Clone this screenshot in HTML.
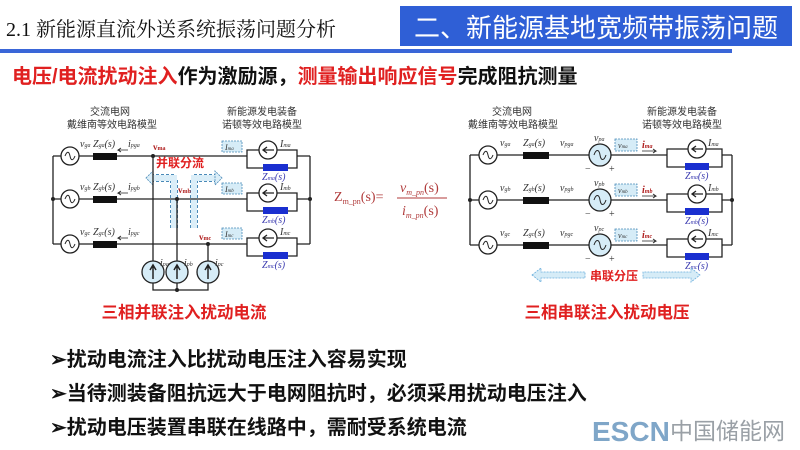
<!DOCTYPE html>
<html><head><meta charset="utf-8"><style>
html,body{margin:0;padding:0;background:#fff;}
svg{display:block;}
.cn{font-family:"Liberation Sans","Noto Sans CJK SC",sans-serif;}
.se{font-family:"Liberation Serif","Noto Serif CJK SC",serif;}
</style></head><body>
<svg width="800" height="450" viewBox="0 0 800 450" xmlns="http://www.w3.org/2000/svg">
<defs>
<g id="acs"><circle r="9" fill="#fff" stroke="#222" stroke-width="1.3"/><path d="M-5,0 C-3,-5 -1,-5 0,0 C1,5 3,5 5,0" fill="none" stroke="#222" stroke-width="1"/></g>
<g id="acb"><circle r="11" fill="#d6ecf7" stroke="#222" stroke-width="1.3"/><path d="M-6,0 C-4,-6 -1,-6 0,0 C1,6 4,6 6,0" fill="none" stroke="#222" stroke-width="1"/></g>
<g id="cs"><circle r="9" fill="#fff" stroke="#222" stroke-width="1.3"/><path d="M6,0 H-5 M-1,-3 L-5,0 L-1,3" fill="none" stroke="#222" stroke-width="1.3"/></g>
<g id="inj"><circle r="11" fill="#d6ecf7" stroke="#222" stroke-width="1.3"/><path d="M0,7 V-6 M-3,-2 L0,-7 L3,-2" fill="none" stroke="#222" stroke-width="1.5"/></g>
</defs>
<!-- header -->
<text x="6" y="36" class="se" font-size="20" fill="#111">2.1 新能源直流外送系统振荡问题分析</text>
<rect x="400" y="6" width="392" height="40" fill="#2f5fd6"/>
<text x="596" y="37" class="cn" font-size="26" fill="#fff" text-anchor="middle">二、新能源基地宽频带振荡问题</text>
<rect x="0" y="49" width="732" height="4" fill="#3a66d8"/>
<text x="12" y="83" class="cn" font-size="20" font-weight="bold"><tspan fill="#e02020">电压/电流扰动注入</tspan><tspan fill="#111">作为激励源，</tspan><tspan fill="#e02020">测量输出响应信号</tspan><tspan fill="#111">完成阻抗测量</tspan></text>

<!-- LEFT CIRCUIT -->
<g class="cn" font-size="10" fill="#333" text-anchor="middle">
<text x="110" y="115">交流电网</text><text x="112" y="128">戴维南等效电路模型</text>
<text x="262" y="115">新能源发电装备</text><text x="262" y="128">诺顿等效电路模型</text>
</g>
<!-- split arrows (behind wires) -->
<g fill="none" stroke-linejoin="miter">
<path d="M174,228 V178 H152" stroke="#4a8ab8" stroke-width="8" stroke-dasharray="3,2"/>
<path d="M174,228 V178 H152" stroke="#dbeef8" stroke-width="6"/>
<path d="M194,228 V178 H216" stroke="#4a8ab8" stroke-width="8" stroke-dasharray="3,2"/>
<path d="M194,228 V178 H216" stroke="#dbeef8" stroke-width="6"/>
</g>
<path d="M146,178 L153,171 V185 Z" fill="#dbeef8" stroke="#4a8ab8" stroke-width="0.8" stroke-dasharray="2,1"/>
<path d="M222,178 L215,171 V185 Z" fill="#dbeef8" stroke="#4a8ab8" stroke-width="0.8" stroke-dasharray="2,1"/>
<g stroke="#222" stroke-width="1.3" fill="none">
<path d="M53,156 V244 M310,156 V244"/>
<path d="M53,156 H247 M53,199 H247 M53,244 H247"/>
<path d="M297,156 H310 M297,199 H310 M297,244 H310"/>
<path d="M247,150 V168 H297 V150 Z M247,193 V211 H297 V193 Z M247,238 V256 H297 V238 Z"/>
<path d="M153,156 V261 M177,199 V261 M208,244 V261 M153,283 V290 H208 V283 M177,283 V290"/>
</g>
<g fill="#222"><circle cx="53" cy="199" r="2"/><circle cx="310" cy="199" r="2"/><circle cx="153" cy="156" r="2"/><circle cx="177" cy="199" r="2"/><circle cx="208" cy="244" r="2"/><circle cx="177" cy="290" r="2"/></g>
<use href="#acs" x="70" y="156"/><use href="#acs" x="70" y="199"/><use href="#acs" x="70" y="244"/>
<g fill="#111"><rect x="93" y="153" width="24" height="7"/><rect x="93" y="196" width="24" height="7"/><rect x="93" y="241" width="24" height="7"/></g>
<use href="#cs" x="268" y="150"/><use href="#cs" x="268" y="193"/><use href="#cs" x="268" y="238"/>
<g fill="#1a2fd0"><rect x="263" y="164" width="25" height="7"/><rect x="263" y="207" width="25" height="7"/><rect x="263" y="252" width="25" height="7"/></g>
<use href="#inj" x="153" y="272"/><use href="#inj" x="177" y="272"/><use href="#inj" x="208" y="272"/>
<g class="se" font-size="10" font-style="italic" fill="#333">
<text x="80" y="147">v<tspan font-size="6">ga</tspan></text><text x="80" y="190">v<tspan font-size="6">gb</tspan></text><text x="80" y="235">v<tspan font-size="6">gc</tspan></text>
<text x="93" y="147">Z<tspan font-size="6">ga</tspan>(s)</text><text x="93" y="190">Z<tspan font-size="6">gb</tspan>(s)</text><text x="93" y="235">Z<tspan font-size="6">gc</tspan>(s)</text>
<text x="128" y="147">i<tspan font-size="6">pga</tspan></text><text x="128" y="190">i<tspan font-size="6">pgb</tspan></text><text x="128" y="235">i<tspan font-size="6">pgc</tspan></text>
<text x="280" y="147">I<tspan font-size="6">ma</tspan></text><text x="280" y="190">I<tspan font-size="6">mb</tspan></text><text x="280" y="235">I<tspan font-size="6">mc</tspan></text>
<text x="160" y="266">i<tspan font-size="6">pa</tspan></text><text x="184" y="266">i<tspan font-size="6">pb</tspan></text><text x="215" y="266">i<tspan font-size="6">pc</tspan></text>
</g>
<g class="se" font-size="10" font-style="italic" fill="#3b3bb0">
<text x="262" y="180">Z<tspan font-size="6">ma</tspan>(s)</text><text x="262" y="223">Z<tspan font-size="6">mb</tspan>(s)</text><text x="262" y="268">Z<tspan font-size="6">mc</tspan>(s)</text>
</g>
<g class="se" font-size="9" font-weight="bold" fill="#b02020"><text x="153" y="150">v<tspan font-size="6">ma</tspan></text><text x="178" y="193">v<tspan font-size="6">mb</tspan></text><text x="199" y="240">v<tspan font-size="6">mc</tspan></text></g>
<g stroke="#222" stroke-width="0.8" fill="none"><path d="M128,150 H118 l3,-2 M118,150 l3,2 M128,193 H118 l3,-2 M118,193 l3,2 M128,238 H118 l3,-2 M118,238 l3,2"/></g>
<g fill="#d6ecf7" stroke="#4a8ab8" stroke-dasharray="2,1" stroke-width="0.8"><rect x="222" y="141" width="20" height="11"/><rect x="222" y="183" width="20" height="11"/><rect x="222" y="228" width="20" height="11"/></g>
<g class="se" font-size="8" font-style="italic" fill="#333"><text x="225" y="150">I<tspan font-size="5">ma</tspan></text><text x="225" y="192">I<tspan font-size="5">mb</tspan></text><text x="225" y="237">I<tspan font-size="5">mc</tspan></text></g>
<text x="180" y="167" class="cn" font-size="12" font-weight="bold" fill="#e02020" text-anchor="middle">并联分流</text>
<text x="184" y="318" class="cn" font-size="16.5" font-weight="bold" fill="#e02020" text-anchor="middle">三相并联注入扰动电流</text>

<!-- formula -->
<g class="se" fill="#b03a3a" font-size="14">
<text x="334" y="201">Z<tspan font-size="8" dy="3">m_pn</tspan><tspan dy="-3">(s)=</tspan></text>
<text x="400" y="192" font-style="italic">v<tspan font-size="8" dy="3">m_pn</tspan><tspan dy="-3" font-style="normal">(s)</tspan></text>
<line x1="397" y1="198" x2="447" y2="198" stroke="#b03a3a" stroke-width="1"/>
<text x="402" y="215" font-style="italic">i<tspan font-size="8" dy="3">m_pn</tspan><tspan dy="-3" font-style="normal">(s)</tspan></text>
</g>

<!-- RIGHT CIRCUIT -->
<g class="cn" font-size="10" fill="#333" text-anchor="middle">
<text x="512" y="115">交流电网</text><text x="513" y="128">戴维南等效电路模型</text>
<text x="682" y="115">新能源发电装备</text><text x="682" y="128">诺顿等效电路模型</text>
</g>
<g stroke="#222" stroke-width="1.3" fill="none">
<path d="M470,155 V245 M732,155 V245"/>
<path d="M470,155 H667 M470,200 H667 M470,245 H667"/>
<path d="M722,155 H732 M722,200 H732 M722,245 H732"/>
<path d="M667,149 V167 H722 V149 Z M667,194 V212 H722 V194 Z M667,239 V257 H722 V239 Z"/>
</g>
<g fill="#222"><circle cx="470" cy="200" r="2"/><circle cx="732" cy="200" r="2"/></g>
<use href="#acs" x="488" y="155"/><use href="#acs" x="488" y="200"/><use href="#acs" x="488" y="245"/>
<g fill="#111"><rect x="523" y="152" width="26" height="7"/><rect x="523" y="197" width="26" height="7"/><rect x="523" y="242" width="26" height="7"/></g>
<use href="#acb" x="600" y="155"/><use href="#acb" x="600" y="200"/><use href="#acb" x="600" y="245"/>
<use href="#cs" x="697" y="149"/><use href="#cs" x="697" y="194"/><use href="#cs" x="697" y="239"/>
<g fill="#1a2fd0"><rect x="685" y="163" width="24" height="7"/><rect x="685" y="208" width="24" height="7"/><rect x="685" y="253" width="24" height="7"/></g>
<g fill="#d6ecf7" stroke="#4a8ab8" stroke-dasharray="2,1" stroke-width="0.8"><rect x="615" y="139" width="22" height="12"/><rect x="615" y="184" width="22" height="12"/><rect x="615" y="229" width="22" height="12"/></g>
<g class="se" font-size="8" font-style="italic" fill="#333"><text x="618" y="148">v<tspan font-size="5">ma</tspan></text><text x="618" y="193">v<tspan font-size="5">mb</tspan></text><text x="618" y="238">v<tspan font-size="5">mc</tspan></text></g>
<g class="se" font-size="10" font-style="italic" fill="#333">
<text x="500" y="146">v<tspan font-size="6">ga</tspan></text><text x="500" y="191">v<tspan font-size="6">gb</tspan></text><text x="500" y="236">v<tspan font-size="6">gc</tspan></text>
<text x="523" y="146">Z<tspan font-size="6">ga</tspan>(s)</text><text x="523" y="191">Z<tspan font-size="6">gb</tspan>(s)</text><text x="523" y="236">Z<tspan font-size="6">gc</tspan>(s)</text>
<text x="560" y="146">v<tspan font-size="6">pga</tspan></text><text x="560" y="191">v<tspan font-size="6">pgb</tspan></text><text x="560" y="236">v<tspan font-size="6">pgc</tspan></text>
<text x="594" y="141">v<tspan font-size="6">pa</tspan></text><text x="594" y="186">v<tspan font-size="6">pb</tspan></text><text x="594" y="231">v<tspan font-size="6">pc</tspan></text>
<text x="708" y="146">I<tspan font-size="6">ma</tspan></text><text x="708" y="191">I<tspan font-size="6">mb</tspan></text><text x="708" y="236">I<tspan font-size="6">mc</tspan></text>
<text x="585" y="172" font-style="normal">−</text><text x="609" y="172" font-style="normal">+</text>
<text x="585" y="217" font-style="normal">−</text><text x="609" y="217" font-style="normal">+</text>
<text x="585" y="262" font-style="normal">−</text><text x="609" y="262" font-style="normal">+</text>
</g>
<g class="se" font-size="10" font-style="italic" font-weight="bold" fill="#b02020"><text x="642" y="148">i<tspan font-size="6">ma</tspan></text><text x="642" y="193">i<tspan font-size="6">mb</tspan></text><text x="642" y="238">i<tspan font-size="6">mc</tspan></text></g>
<g stroke="#222" stroke-width="0.8" fill="none"><path d="M642,151 H656 l-3,-2 M656,151 l-3,2 M642,196 H656 l-3,-2 M656,196 l-3,2 M642,241 H656 l-3,-2 M656,241 l-3,2"/></g>
<g class="se" font-size="10" font-style="italic" fill="#3b3bb0">
<text x="685" y="179">Z<tspan font-size="6">ma</tspan>(s)</text><text x="685" y="224">Z<tspan font-size="6">mb</tspan>(s)</text><text x="685" y="269">Z<tspan font-size="6">mc</tspan>(s)</text>
</g>
<g fill="#d6ecf7" stroke="#6aaedc" stroke-width="0.8" stroke-dasharray="2,1">
<path d="M532,275 L541,268 V272 H585 V278 H541 V282 Z"/>
<path d="M700,275 L691,268 V272 H643 V278 H691 V282 Z"/>
</g>
<text x="614" y="280" class="cn" font-size="12" font-weight="bold" fill="#e02020" text-anchor="middle">串联分压</text>
<text x="607" y="318" class="cn" font-size="16.5" font-weight="bold" fill="#e02020" text-anchor="middle">三相串联注入扰动电压</text>

<!-- bullets -->
<g class="cn" font-size="20" font-weight="bold" fill="#111">
<text x="50" y="366">➢扰动电流注入比扰动电压注入容易实现</text>
<text x="50" y="400">➢当待测装备阻抗远大于电网阻抗时，必须采用扰动电压注入</text>
<text x="50" y="434">➢扰动电压装置串联在线路中，需耐受系统电流</text>
</g>
<text x="592" y="441" class="cn" font-size="28" font-weight="bold" fill="#7fa6c8">ESCN</text>
<text x="670" y="439" class="cn" font-size="23" fill="#9aa0a6">中国储能网</text>
</svg>
</body></html>
